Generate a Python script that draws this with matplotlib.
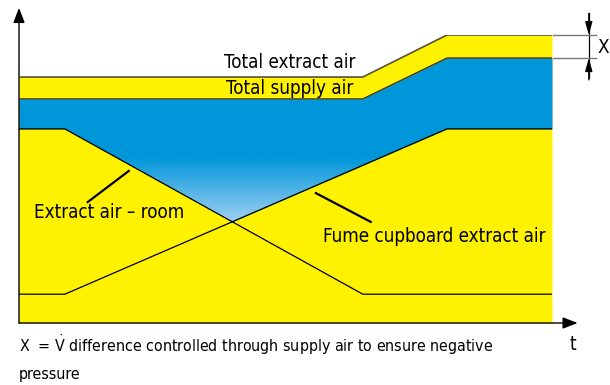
import numpy as np
import matplotlib
matplotlib.use("Agg")
import matplotlib.pyplot as plt
from matplotlib import font_manager
from matplotlib.colors import LinearSegmentedColormap

# Airflow profiles over time (percent of full scale), each with its own breakpoints
t_fume = [0, 8.6, 80.3, 100]
v_fume = [10, 10, 67.4, 67.4]          # fume cupboard extract air
t_room = [0, 8.6, 64.5, 100]
v_room = [67.4, 67.4, 10, 10]          # extract air - room
t_total = [0, 64.5, 80.3, 100]
v_supply = [77.8, 77.8, 92, 92]        # total supply air
v_extract = [85.4, 85.4, 100, 100]     # total extract air

labels = {
    "extract": "Total extract air",
    "supply": "Total supply air",
    "room": "Extract air \u2013 room",
    "fume": "Fume cupboard extract air",
}
footnote = [r"X  = $\dot{V}$ difference controlled through supply air to ensure negative",
            "pressure"]

YELLOW = "#FFF200"
BLUE = "#0096DA"
LIGHT = "#9FD0F2"

# pick a condensed sans face if present
names = {(f.name, f.stretch) for f in font_manager.fontManager.ttflist}
if any(n == "DejaVu Sans" and s in ("condensed", "semi-condensed") for n, s in names):
    FONT = dict(family="DejaVu Sans", stretch="condensed")
    FS = 13.5
    MATH_FONT = "DejaVu Sans:stretch=condensed"
else:
    FONT = dict(family="DejaVu Sans")
    FS = 12
    MATH_FONT = "DejaVu Sans"

plt.rcParams["mathtext.fontset"] = "custom"
plt.rcParams["mathtext.rm"] = MATH_FONT
plt.rcParams["mathtext.it"] = MATH_FONT
plt.rcParams["mathtext.default"] = "regular"

W, H = 610, 385
fig = plt.figure(figsize=(W / 100, H / 100), dpi=100)
x0, x1, y0, y1 = 19, 552, 323, 35
ax = fig.add_axes([x0 / W, 1 - y0 / H, (x1 - x0) / W, (y0 - y1) / H])
ax.set_xlim(0, 100)
ax.set_ylim(0, 100)
ax.axis("off")

# yellow body under total extract
ax.fill_between(t_total, 0, v_extract, color=YELLOW, lw=0, zorder=1)
# blue band between the upper of the two branch lines and total supply
tg = np.linspace(0, 100, 2001)
upper = np.maximum(np.interp(tg, t_fume, v_fume), np.interp(tg, t_room, v_room))
ax.fill_between(tg, upper, np.interp(tg, t_total, v_supply), color=BLUE, lw=0, zorder=2)

# fading triangle between the crossing branches
ymin = upper.min()
tri = ax.fill_between(tg, upper, v_room[0], where=upper < v_room[0] - 1e-9,
                      color="none", lw=0, zorder=3)
cmap = LinearSegmentedColormap.from_list("fade", [(0, LIGHT), (0.7, BLUE), (1, BLUE)])
grad = np.linspace(0, 1, 256).reshape(-1, 1)
img = ax.imshow(grad, extent=[0, 100, ymin, v_room[0]], origin="lower",
                cmap=cmap, aspect="auto", zorder=3, interpolation="bilinear")
img.set_clip_path(tri.get_paths()[0], transform=ax.transData)

# outlines
ax.plot(t_total, v_extract, color="#55532a", lw=1.2, zorder=5)
ax.plot(t_total, v_supply, color="#333333", lw=1.0, zorder=5)
ax.plot(t_fume, v_fume, color="black", lw=0.9, zorder=5)
ax.plot(t_room, v_room, color="black", lw=0.9, zorder=5)

# axes arrows
arrow = dict(arrowstyle="-|>,head_length=0.9,head_width=0.35", color="black", lw=1.0,
             shrinkA=0, shrinkB=0)
ax.annotate("", xy=(0, 109.4), xytext=(0, 0), arrowprops=arrow, annotation_clip=False)
ax.annotate("", xy=(104.8, 0), xytext=(0, 0), arrowprops=arrow, annotation_clip=False)

# dimension mark X on the right
for yv in (v_extract[-1], v_supply[-1]):
    ax.plot([100.2, 108.2], [yv, yv], color="#777777", lw=1.0, clip_on=False, zorder=5)
dim = dict(arrowstyle="-|>,head_length=0.8,head_width=0.22", color="black", lw=0.9,
           shrinkA=0, shrinkB=0)
ax.plot([106.9, 106.9], [85, 107.5], color="black", lw=0.9, clip_on=False)
ax.annotate("", xy=(106.9, v_extract[-1]), xytext=(106.9, 107.5), arrowprops=dim,
            annotation_clip=False)
ax.annotate("", xy=(106.9, v_supply[-1]), xytext=(106.9, 84.4), arrowprops=dim,
            annotation_clip=False)
ax.text(108.6, 95.8, "X", fontsize=FS, va="center", ha="left", clip_on=False, **FONT)

# series labels with leader lines
ax.text(50.7, 90.3, labels["extract"], fontsize=FS, ha="center", va="center", zorder=6, **FONT)
ax.text(50.7, 81.3, labels["supply"], fontsize=FS, ha="center", va="center", zorder=6, **FONT)
ax.text(2.8, 38.5, labels["room"], fontsize=FS, ha="left", va="center", zorder=6, **FONT)
ax.text(57.0, 29.9, labels["fume"], fontsize=FS, ha="left", va="center", zorder=6, **FONT)
ax.plot([20.6, 12.9], [52.8, 42.0], color="black", lw=1.6, zorder=6)
ax.plot([55.7, 66.0], [45.1, 35.1], color="black", lw=1.6, zorder=6)

# footnote and time label
fig.text(19 / W, 1 - 345 / H, footnote[0], fontsize=FS * 0.85, ha="left", va="center", **FONT)
fig.text(19 / W, 1 - 375 / H, footnote[1], fontsize=FS * 0.85, ha="left", va="center", **FONT)
fig.text(573 / W, 1 - 345 / H, "t", fontsize=FS, ha="center", va="center", **FONT)

fig.savefig("out.png", dpi=100)
